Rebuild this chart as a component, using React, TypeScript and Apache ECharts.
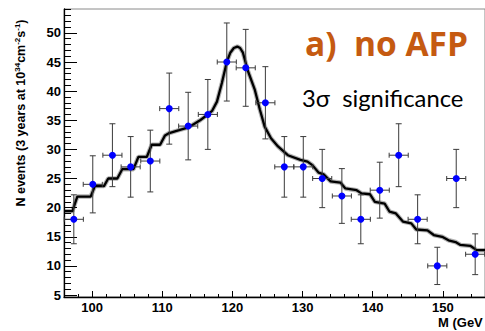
import React, { useEffect, useRef } from "react";
import * as echarts from "echarts";

// Data points (bin centres in GeV)
const massGeV = [97.4, 100.1, 102.9, 105.5, 108.3, 111.0, 113.7, 116.5, 119.2, 121.9, 124.7, 127.4, 130.1, 132.8, 135.6, 138.3, 141.0, 143.7, 146.4, 149.2, 151.9, 154.6];
const events = [18, 24, 29, 27, 28, 37, 34, 36, 45, 44, 38, 27, 27, 25, 22, 18, 23, 29, 18, 10, 25, 12];
const eventErr = [4.2, 4.9, 5.4, 5.2, 5.3, 6.1, 5.8, 6.0, 6.7, 6.6, 6.2, 5.2, 5.2, 5.0, 4.7, 4.2, 4.8, 5.4, 4.2, 3.2, 5.0, 3.5];
const massHalfBin = 1.36;

// Expected-signal-plus-background curve
const curveMass = [96.0, 97.2, 97.9, 99.8, 100.4, 101.7, 102.3, 103.6, 104.3, 105.9, 106.6, 107.8, 108.5, 109.7, 110.4, 111.0, 112.4, 113.5, 114.3, 115.4, 116.4, 117.1, 117.8, 118.5, 119.2, 119.7, 120.2, 120.7, 121.1, 121.5, 122.2, 123.2, 123.9, 124.6, 125.5, 126.5, 127.9, 129.7, 130.7, 131.4, 132.3, 133.0, 134.0, 135.4, 136.1, 137.7, 138.4, 139.6, 140.3, 141.7, 142.4, 143.3, 144.3, 145.5, 146.2, 147.8, 148.7, 149.9, 150.8, 151.8, 152.5, 153.9, 154.8, 156.0];
const curveEvents = [19.4, 19.4, 21.9, 21.9, 23.7, 23.7, 25.0, 25.0, 26.6, 26.6, 28.7, 28.7, 30.8, 30.8, 32.4, 32.8, 33.3, 33.7, 34.2, 35.0, 35.9, 36.6, 38.2, 41.4, 45.0, 46.6, 47.4, 47.65, 47.4, 46.6, 43.5, 40.2, 36.9, 33.9, 31.9, 30.5, 29.0, 28.2, 27.9, 27.3, 26.0, 25.7, 24.5, 24.3, 23.3, 23.0, 22.45, 22.3, 21.0, 20.7, 19.3, 19.0, 17.6, 17.3, 16.25, 16.1, 15.3, 15.0, 14.4, 14.1, 13.6, 13.45, 12.7, 12.7];

const X_MIN = 96;
const X_MAX = 156;
const Y_MIN = 4.66;
const Y_MAX = 54.1;

const AXIS_FONT = "Liberation Sans";

export default function App() {
  const ref = useRef<HTMLDivElement>(null);

  useEffect(() => {
    if (!ref.current) return;
    const chart = echarts.init(ref.current, null, { renderer: "svg" });

    const curve = curveMass.map((m, i) => [m, curveEvents[i]]);
    const points = massGeV.map((m, i) => [m, events[i], massHalfBin, eventErr[i]]);

    const xBase = {
      type: "value",
      min: X_MIN,
      max: X_MAX,
      position: "bottom",
      splitLine: { show: false },
    };
    const yBase = {
      type: "value",
      min: Y_MIN,
      max: Y_MAX,
      position: "left",
      splitLine: { show: false },
    };

    chart.setOption({
      animation: false,
      backgroundColor: "#ffffff",
      grid: {
        left: 64,
        top: 9,
        width: 426.4,
        height: 288,
        show: true,
        borderColor: "#8a8a8a",
        borderWidth: 1,
        backgroundColor: "transparent",
      },
      xAxis: [
        {
          ...xBase,
          minInterval: 2,
          maxInterval: 2,
          axisLine: { show: true, lineStyle: { color: "#000", width: 1.3 } },
          axisTick: { show: true, inside: true, length: 3, lineStyle: { color: "#000", width: 1 } },
          axisLabel: { show: false },
        },
        {
          ...xBase,
          minInterval: 10,
          maxInterval: 10,
          axisLine: { show: false },
          axisTick: { show: true, inside: true, length: 6, lineStyle: { color: "#000", width: 1 } },
          axisLabel: {
            show: true,
            showMinLabel: false,
            showMaxLabel: false,
            margin: 4,
            color: "#000",
            fontFamily: AXIS_FONT,
            fontWeight: "bold",
            fontSize: 13,
          },
        },
      ],
      yAxis: [
        {
          ...yBase,
          minInterval: 1,
          maxInterval: 1,
          axisLine: { show: true, lineStyle: { color: "#000", width: 1.3 } },
          axisTick: { show: true, inside: true, length: 7, lineStyle: { color: "#000", width: 1 } },
          axisLabel: { show: false },
        },
        {
          ...yBase,
          minInterval: 5,
          maxInterval: 5,
          axisLine: { show: false },
          axisTick: { show: true, inside: true, length: 13, lineStyle: { color: "#000", width: 1 } },
          axisLabel: {
            show: true,
            showMinLabel: false,
            showMaxLabel: false,
            margin: 3,
            color: "#000",
            fontFamily: AXIS_FONT,
            fontWeight: "bold",
            fontSize: 13,
          },
        },
      ],
      series: [
        {
          type: "line",
          name: "halo",
          data: curve,
          xAxisIndex: 0,
          yAxisIndex: 0,
          symbol: "none",
          silent: true,
          z: 2,
          lineStyle: { color: "rgba(0,0,0,0.3)", width: 4.5 },
        },
        {
          type: "line",
          name: "expected",
          data: curve,
          xAxisIndex: 0,
          yAxisIndex: 0,
          symbol: "none",
          silent: true,
          z: 3,
          lineStyle: { color: "#000", width: 2.3 },
        },
        {
          type: "custom",
          name: "errors",
          data: points,
          xAxisIndex: 0,
          yAxisIndex: 0,
          z: 4,
          encode: { x: 0, y: 1 },
          renderItem: (params: any, api: any) => {
            const x = api.value(0);
            const y = api.value(1);
            const dx = api.value(2);
            const dy = api.value(3);
            const pL = api.coord([x - dx, y]);
            const pR = api.coord([x + dx, y]);
            const pT = api.coord([x, y + dy]);
            const pB = api.coord([x, y - dy]);
            const style = { stroke: "#3a3a3a", lineWidth: 1, fill: null };
            const seg = (x1: number, y1: number, x2: number, y2: number) => ({
              type: "line",
              shape: { x1, y1, x2, y2 },
              style,
            });
            const cx = 2.5;
            const cy = 3;
            return {
              type: "group",
              children: [
                seg(pL[0], pL[1], pR[0], pR[1]),
                seg(pT[0], pT[1], pB[0], pB[1]),
                seg(pL[0], pL[1] - cx, pL[0], pL[1] + cx),
                seg(pR[0], pR[1] - cx, pR[0], pR[1] + cx),
                seg(pT[0] - cy, pT[1], pT[0] + cy, pT[1]),
                seg(pB[0] - cy, pB[1], pB[0] + cy, pB[1]),
              ],
            };
          },
        },
        {
          type: "scatter",
          name: "data",
          data: massGeV.map((m, i) => [m, events[i]]),
          xAxisIndex: 0,
          yAxisIndex: 0,
          symbol: "circle",
          symbolSize: 7,
          z: 5,
          itemStyle: { color: "#0000ff", opacity: 1 },
        },
      ],
      graphic: [
        {
          type: "text",
          x: 21,
          y: 113,
          rotation: Math.PI / 2,
          style: {
            text: "{m|N events (3 years at 10}{s|34}{m|cm}{s|-2}{m|s}{s|-1}{m|)}",
            align: "center",
            verticalAlign: "middle",
            fill: "#000",
            rich: {
              m: { fontSize: 12.5, fontWeight: "bold", fontFamily: AXIS_FONT, lineHeight: 16, fill: "#000" },
              s: { fontSize: 8, fontWeight: "bold", fontFamily: AXIS_FONT, lineHeight: 10, verticalAlign: "top", fill: "#000" },
            },
          },
        },
        {
          type: "text",
          x: 438,
          y: 322,
          style: {
            text: "M (GeV",
            fontFamily: AXIS_FONT,
            fontWeight: "bold",
            fontSize: 13,
            fill: "#000",
            align: "left",
            verticalAlign: "middle",
          },
        },
        {
          type: "text",
          x: 305,
          y: 43,
          style: {
            text: "a)  no AFP",
            fontFamily: "Open Sans",
            fontWeight: "bold",
            fontSize: 33.5,
            fill: "#c55a11",
            align: "left",
            verticalAlign: "middle",
          },
        },
        {
          type: "text",
          x: 302,
          y: 98,
          style: {
            text: "3σ  significance",
            fontFamily: "Lato",
            fontSize: 23.8,
            fill: "#000",
            align: "left",
            verticalAlign: "middle",
          },
        },
      ],
    });

    return () => chart.dispose();
  }, []);

  return (
    <div
      ref={ref}
      style={{ position: "absolute", left: 0, top: 0, width: 485, height: 331 }}
    />
  );
}
